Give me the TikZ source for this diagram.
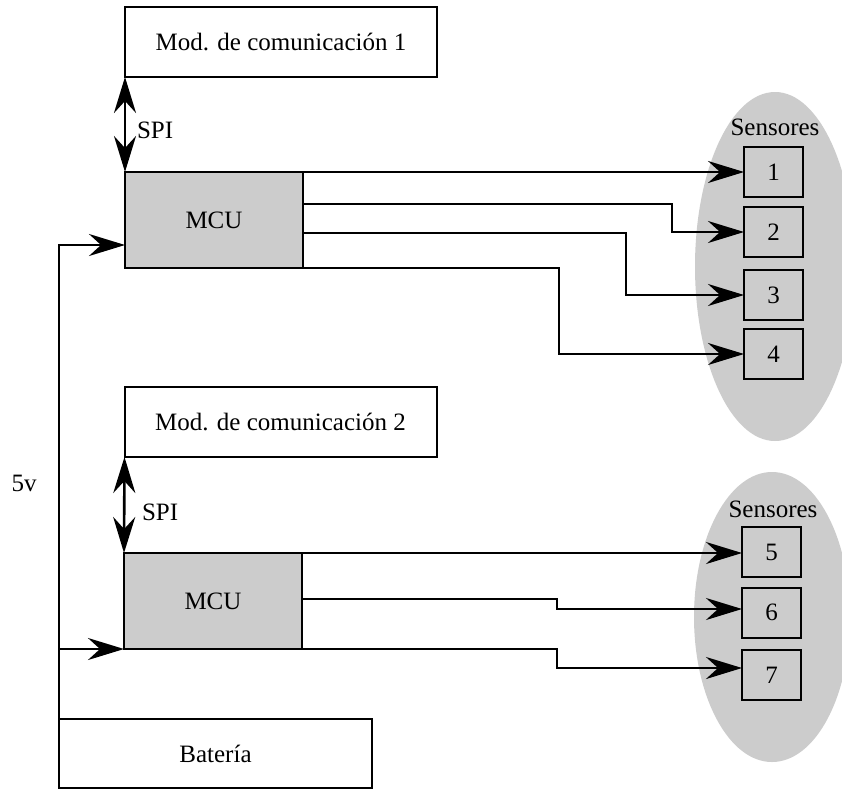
\documentclass[tikz,border=0pt]{standalone}
\usepackage{fontspec}
\setmainfont{Liberation Serif}
\usetikzlibrary{arrows.meta,shapes.geometric,calc}
\definecolor{sgray}{HTML}{CCCCCC}
\begin{document}
\begin{tikzpicture}[x=1pt,y=-1pt,
  every node/.style={font=\fontsize{25}{29}\selectfont, inner sep=0pt, outer sep=0pt},
  box/.style={draw, line width=2pt, rectangle, align=center},
  mcubox/.style={box, fill=sgray, minimum width=178pt, minimum height=96pt},
  modbox/.style={box, fill=white, minimum width=312pt, minimum height=70pt},
  sbox/.style={box, fill=sgray, minimum width=59pt, minimum height=50pt},
  cloud/.style={ellipse, fill=sgray, draw=none},
  conn/.style={line width=2.6pt, -{Stealth[length=36pt,width=22pt,inset=12pt]}},
  biconn/.style={line width=2.6pt, {Stealth[length=36pt,width=22pt,inset=12pt]}-{Stealth[length=36pt,width=22pt,inset=12pt]}}]
\clip (0,0) rectangle (842,790);
\fill[white] (0,0) rectangle (842,790);

% sensor groups
\node[cloud, minimum width=160pt, minimum height=349pt] (g1) at (775,266.5) {};
\node[cloud, minimum width=156pt, minimum height=290pt] (g2) at (772,617) {};
\node (t1) at (775,127) {Sensores};
\node (t2) at (773,509) {Sensores};

% boxes
\node[modbox] (mod1) at (281,42) {Mod. de comunicación 1};
\node[mcubox] (mcu1) at (214,220) {MCU};
\node[modbox] (mod2) at (280.5,422) {Mod. de comunicación 2};
\node[mcubox] (mcu2) at (213,601) {MCU};
\node[box, minimum width=313pt, minimum height=69pt] (bat) at (215.5,753.5) {Batería};

\node[sbox] (s1) at (773.5,172) {1};
\node[sbox] (s2) at (773.5,232) {2};
\node[sbox] (s3) at (773.5,295) {3};
\node[sbox] (s4) at (773.5,354) {4};
\node[sbox] (s5) at (771.5,552) {5};
\node[sbox] (s6) at (771.5,612.5) {6};
\node[sbox] (s7) at (771.5,675) {7};

% labels
\node[anchor=west] (spi1) at (137,130) {SPI};
\node[anchor=west] (spi2) at (142,512) {SPI};
\node (v5) at (24,483) {5v};

% SPI links
\draw[biconn] (mod1.south west) -- (mcu1.north west);
\draw[biconn] (mod2.south west) -- (mcu2.north west);

% turning columns
\coordinate (k2) at (672,0);
\coordinate (k3) at (626,0);
\coordinate (k4) at (559,0);
\coordinate (k6) at (557,0);

% MCU1 outputs
\coordinate (m1b) at (mcu1.east |- 0,204);
\coordinate (m1c) at (mcu1.east |- 0,233);
\draw[conn] (mcu1.north east) -- (s1.west |- mcu1.north east);
\draw[conn] (m1b) -- (k2 |- m1b) |- (s2.west);
\draw[conn] (m1c) -- (k3 |- m1c) |- (s3.west);
\draw[conn] (mcu1.south east) -- (k4 |- mcu1.south east) |- (s4.west);

% MCU2 outputs
\coordinate (m2b) at (mcu2.east |- 0,599);
\coordinate (e6) at ($(s6.west)+(0,-3.5)$);
\coordinate (e7) at ($(s7.west)+(0,-7)$);
\draw[conn] (mcu2.north east) -- (s5.west |- mcu2.north east);
\draw[conn] (m2b) -- (k6 |- m2b) |- (e6);
\draw[conn] (mcu2.south east) -- (k6 |- mcu2.south east) |- (e7);

% power
\coordinate (p1) at ($(mcu1.west)+(0,25)$);
\coordinate (pj) at (bat.north west |- mcu2.south west);
\draw[conn] (bat.north west) |- (p1);
\draw[conn] (pj) -- (mcu2.south west);
\end{tikzpicture}
\end{document}
